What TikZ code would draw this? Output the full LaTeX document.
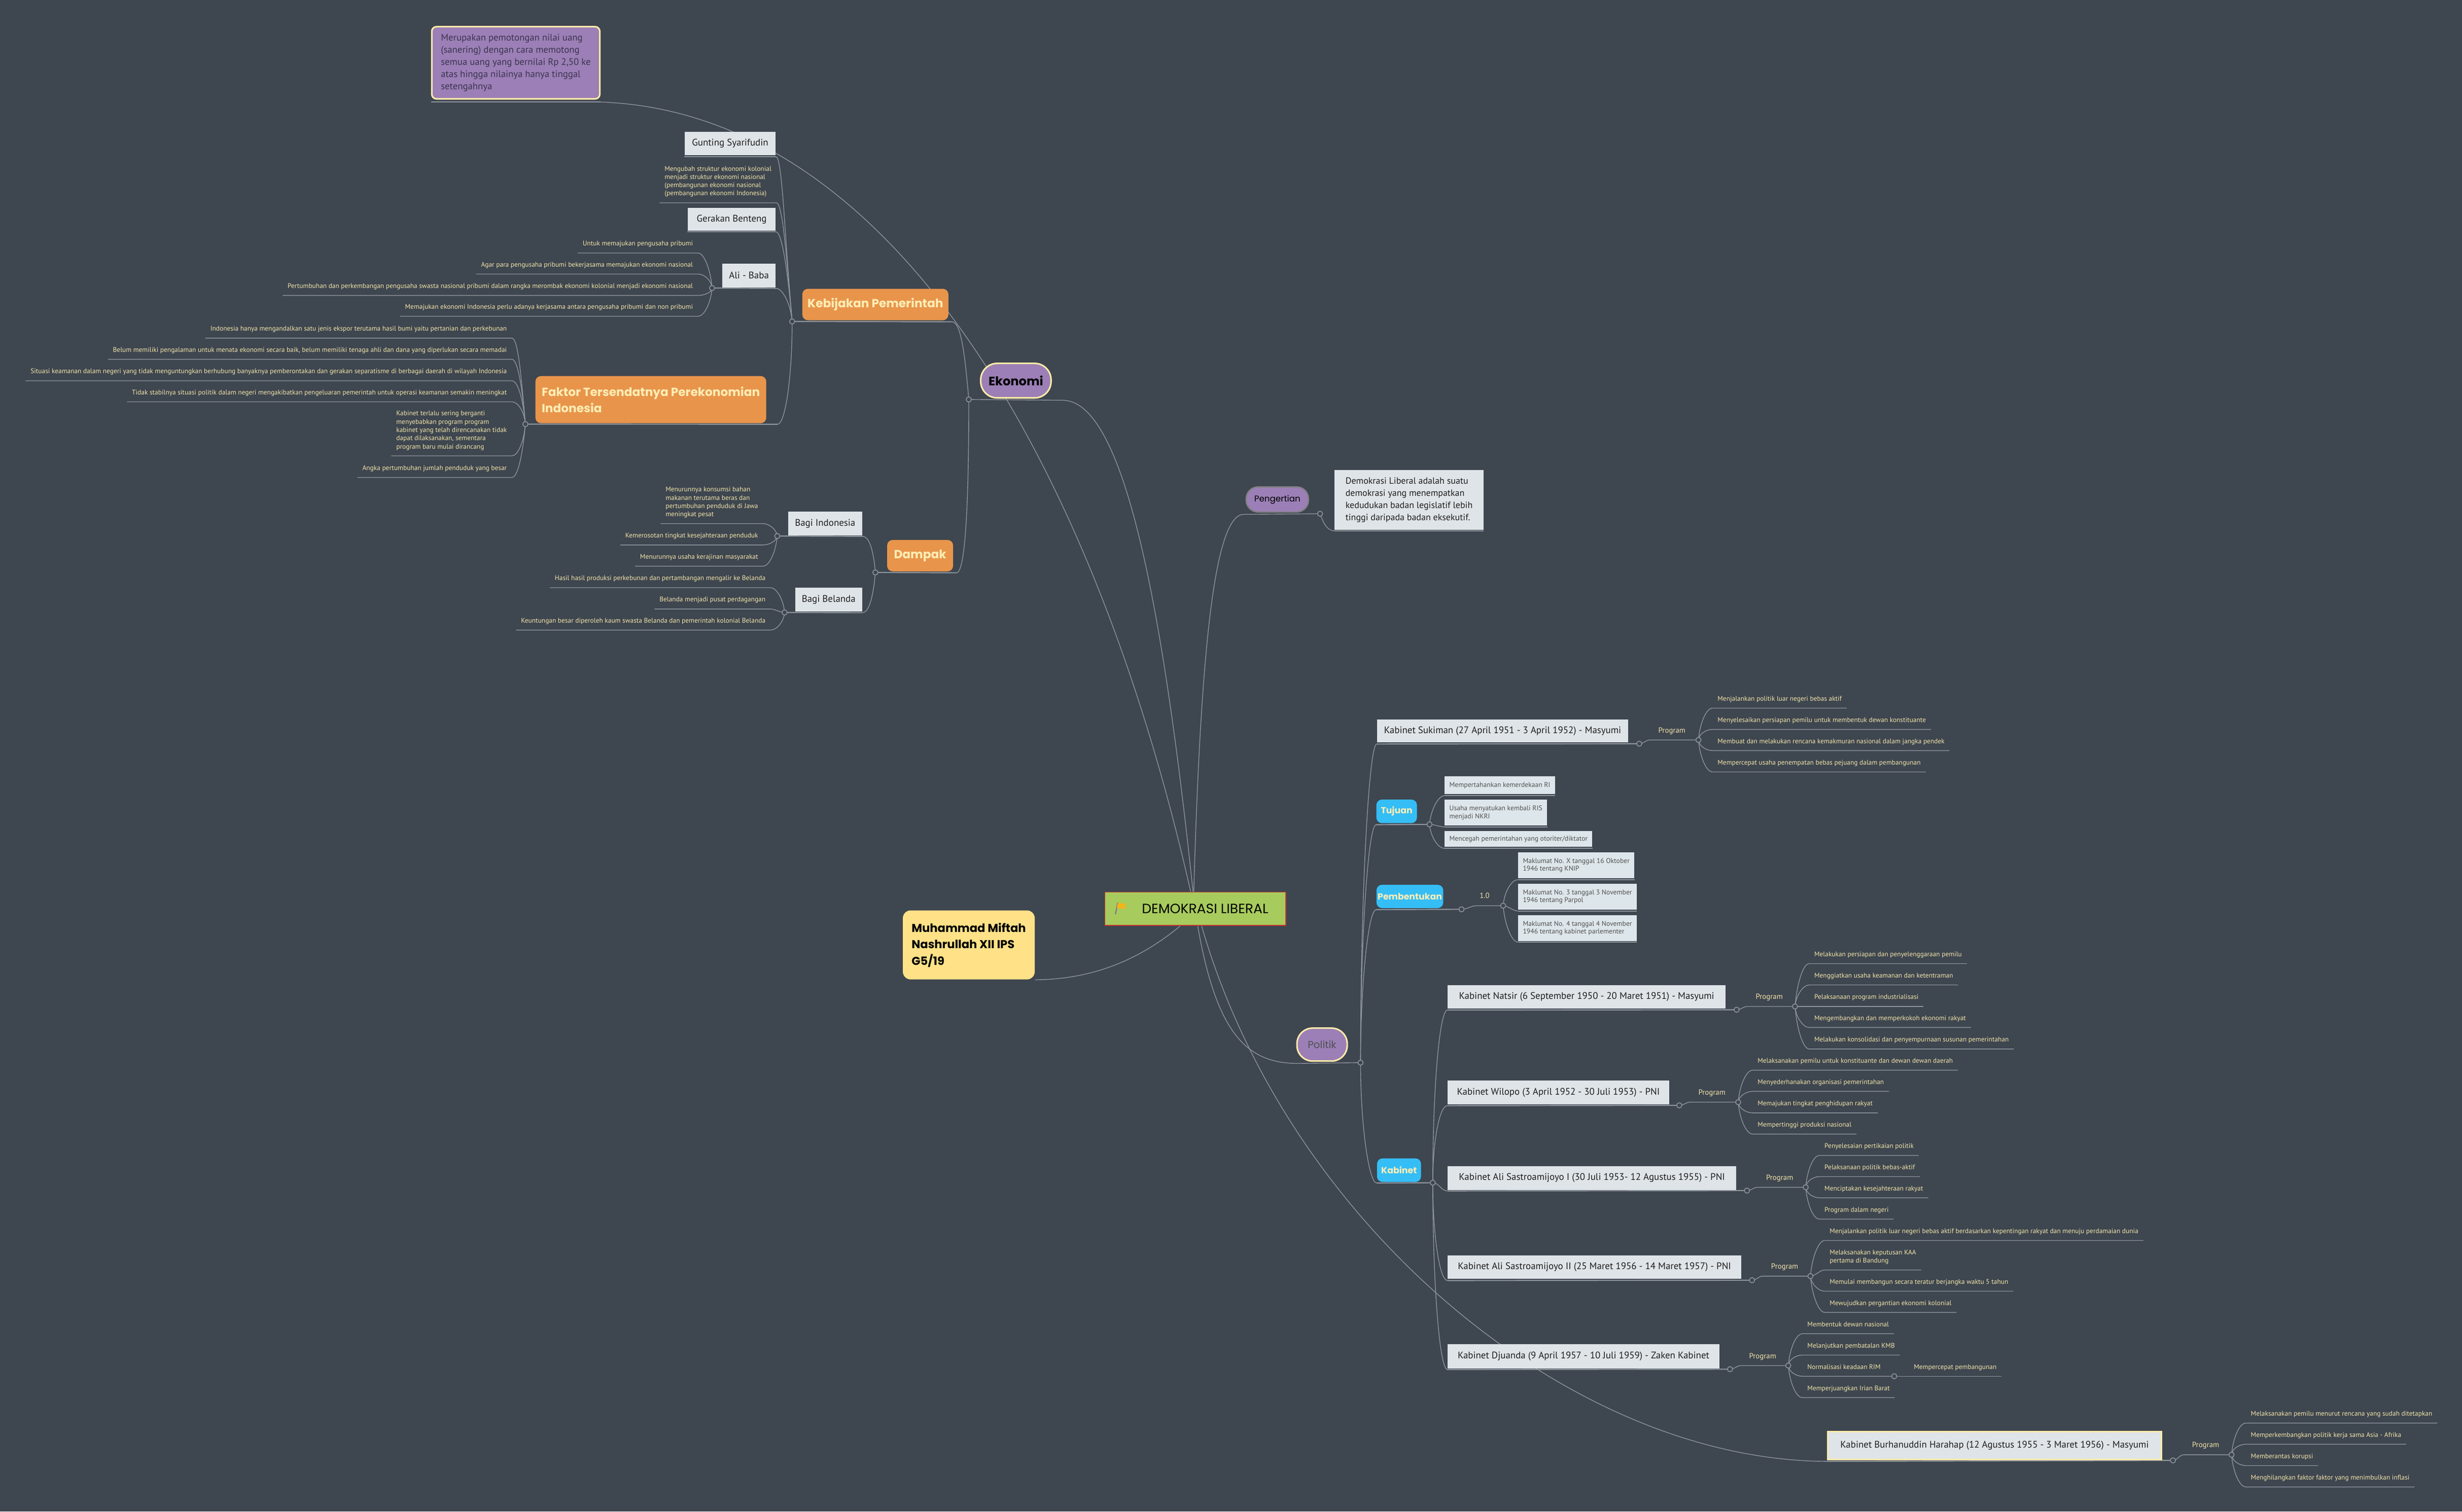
\documentclass[tikz,border=0pt]{standalone}
\usepackage{fontspec}
\setmainfont{PT Sans}
\newfontfamily\popf{Poppins}
\usetikzlibrary{calc}
\pgfdeclarelayer{back}
\pgfdeclarelayer{lines}
\pgfsetlayers{back,lines,main}
\definecolor{bg}{HTML}{3E4650}
\definecolor{lnc}{HTML}{8E959C}
\definecolor{txt}{HTML}{F3E5A9}
\definecolor{lbx}{HTML}{DFE4E8}
\definecolor{tbx}{HTML}{DDE6EA}
\definecolor{org}{HTML}{E8954B}
\definecolor{orgt}{HTML}{FDEDB5}
\definecolor{blu}{HTML}{35BEF6}
\definecolor{pur}{HTML}{9B7FB6}
\definecolor{yel}{HTML}{FDEBA8}
\definecolor{grn}{HTML}{A8CB5E}
\definecolor{redb}{HTML}{CC3A2E}
\definecolor{mmy}{HTML}{FFE287}
\definecolor{dark}{HTML}{1E1E1E}
\definecolor{notet}{HTML}{3C3450}
\definecolor{gtx}{HTML}{505050}
\definecolor{flagc}{HTML}{F4B41A}
\newcommand\mysmall{\fontsize{4.32}{5.25}\selectfont}
\newcommand\mybox{\fontsize{6.1}{7.5}\selectfont}
\newcommand\mytbox{\fontsize{4.4}{5.1}\selectfont}
\newcommand\myorg{\popf\bfseries\fontsize{7.5}{10.5}\selectfont}
\newcommand\myblu{\popf\bfseries\fontsize{5.6}{7}\selectfont}
\newcommand\myprog{\fontsize{4.8}{5.5}\selectfont}
\begin{document}
\begin{tikzpicture}[x=1pt,y=1pt,
 ln/.style={draw=lnc,line width=0.45pt},
 uln/.style={draw=lnc,line width=0.7pt},
 cdot/.style={circle,draw=lnc,fill=bg,line width=0.5pt,inner sep=0pt,minimum size=3.3pt},
 smt/.style={font=\mysmall,text=txt,inner xsep=3pt,inner ysep=3.4pt},
 lfL/.style={smt,text depth=1pt,anchor=south east},
 lfR/.style={smt,text depth=1pt,anchor=south west},
 mlL/.style={smt,align=left,anchor=south east},
 mlR/.style={smt,align=left,anchor=south west},
 lbox/.style={fill=lbx,text=dark,font=\mybox,inner sep=0pt},
 tbox/.style={fill=tbx,text=gtx,font=\mytbox,inner xsep=3pt,inner ysep=0pt,align=left,anchor=west},
 obox/.style={fill=org,text=orgt,rounded corners=3.5pt,inner sep=0pt,font=\myorg},
 bbox/.style={fill=blu,text=orgt,rounded corners=3.5pt,inner sep=0pt,font=\myblu},
 pill/.style={fill=pur,inner sep=0pt},
 prog/.style={font=\myprog,text=txt,inner xsep=5pt,inner ysep=3.4pt,text depth=1pt,anchor=south west},
 toLup/.style={out=0,in=95,out distance=4pt,in distance=#1},
 toLdn/.style={out=0,in=-95,out distance=4pt,in distance=#1},
 toRup/.style={out=180,in=85,out distance=4pt,in distance=#1},
 toRdn/.style={out=180,in=-85,out distance=4pt,in distance=#1},
 toLlv/.style={out=0,in=180,out distance=3pt,in distance=3pt},
 toRlv/.style={out=180,in=0,out distance=3pt,in distance=3pt}
]
\useasboundingbox (0,0) rectangle (1568,-963);
\begin{pgfonlayer}{back}
\fill[bg] (0,0) rectangle (1568,-963);
\end{pgfonlayer}

% ---------- circle coordinates ----------
\coordinate (kC) at (504.5,-204.8);
\coordinate (abC) at (453.5,-183.5);
\coordinate (fC) at (334.6,-270.2);
\coordinate (eC) at (617,-254.5);
\coordinate (dC) at (557.5,-364.7);
\coordinate (biC) at (495,-341.5);
\coordinate (bbC) at (499.7,-390.2);
\coordinate (pC) at (840.7,-327.3);
\coordinate (polC) at (866.5,-677);
\coordinate (tjC) at (910.4,-525.2);
\coordinate (pbC1) at (930.8,-579.3);
\coordinate (pbC2) at (957.3,-577);
\coordinate (kbC) at (912.5,-753.5);
\coordinate (ksC1) at (1044,-473.8);
\coordinate (ksC2) at (1081.7,-471.4);
\coordinate (natC1) at (1106,-643.3);
\coordinate (natC2) at (1143.2,-641.2);
\coordinate (wilC1) at (1069.5,-704.2);
\coordinate (wilC2) at (1107,-702.2);
\coordinate (aiC1) at (1112.6,-758.5);
\coordinate (aiC2) at (1150,-756.4);
\coordinate (ajC1) at (1115.8,-815.6);
\coordinate (ajC2) at (1153,-813);
\coordinate (djC1) at (1101.8,-872.3);
\coordinate (djC2) at (1138.9,-870);
\coordinate (djx) at (1206.4,-876.8);
\coordinate (bhC1) at (1383.9,-930.4);
\coordinate (bhC2) at (1421.2,-926.8);

% ---------- nodes: left (Ekonomi) ----------
\node[fill=pur,draw=yel,line width=1pt,rounded corners=3pt,minimum width=107pt,minimum height=46pt,inner sep=0pt,align=left,text=notet,font=\fontsize{6.05}{7.75}\selectfont] (pn) at (328.5,-40) {Merupakan pemotongan nilai uang\\(sanering) dengan cara memotong\\semua uang yang bernilai Rp 2,50 ke\\atas hingga nilainya hanya tinggal\\setengahnya};
\node[lbox,minimum width=58pt,minimum height=15pt] (gs) at (465,-91.5) {Gunting Syarifudin};
\node[mlL] (mg) at (494.5,-129.2) {Mengubah struktur ekonomi kolonial\\menjadi struktur ekonomi nasional\\(pembangunan ekonomi nasional\\(pembangunan ekonomi Indonesia)};
\node[lbox,minimum width=56pt,minimum height=14.5pt] (gb) at (466,-139.75) {Gerakan Benteng};
\node[lbox,minimum width=34pt,minimum height=15pt] (ab) at (477,-175.5) {Ali - Baba};
\node[lfL] (a1) at (444.5,-161.2) {Untuk memajukan pengusaha pribumi};
\node[lfL] (a2) at (444.5,-174.6) {Agar para pengusaha pribumi bekerjasama memajukan ekonomi nasional};
\node[lfL] (a3) at (444.5,-188.2) {Pertumbuhan dan perkembangan pengusaha swasta nasional pribumi dalam rangka merombak ekonomi kolonial menjadi ekonomi nasional};
\node[lfL] (a4) at (444.5,-201.5) {Memajukan ekonomi Indonesia perlu adanya kerjasama antara pengusaha pribumi dan non pribumi};
\node[obox,minimum width=93pt,minimum height=20pt] (kp) at (557.5,-194) {Kebijakan Pemerintah};
\node[obox,minimum width=147pt,minimum height=30pt,align=left] (fk) at (414.5,-254.6) {Faktor Tersendatnya Perekonomian\\Indonesia};
\node[lfL] (f1) at (326,-215.4) {Indonesia hanya mengandalkan satu jenis ekspor terutama hasil bumi yaitu pertanian dan perkebunan};
\node[lfL] (f2) at (326,-228.9) {Belum memiliki pengalaman untuk menata ekonomi secara baik, belum memiliki tenaga ahli dan dana yang diperlukan secara memadai};
\node[lfL] (f3) at (326,-242.6) {Situasi keamanan dalam negeri yang tidak menguntungkan berhubung banyaknya pemberontakan dan gerakan separatisme di berbagai daerah di wilayah Indonesia};
\node[lfL] (f4) at (326,-256) {Tidak stabilnya situasi politik dalam negeri mengakibatkan pengeluaran pemerintah untuk operasi keamanan semakin meningkat};
\node[mlL] (f5) at (326,-290.4) {Kabinet terlalu sering berganti\\menyebabkan program program\\kabinet yang telah direncanakan tidak\\dapat dilaksanakan, sementara\\program baru mulai dirancang};
\node[lfL] (f6) at (326,-304.2) {Angka pertumbuhan jumlah penduduk yang besar};
\node[pill,draw=yel,line width=1pt,rounded corners=10.5pt,minimum width=44.8pt,minimum height=22pt,text=black,font=\popf\bfseries\fontsize{7.8}{9}\selectfont] (ek) at (647,-242.5) {Ekonomi};
\node[obox,minimum width=42pt,minimum height=20pt] (dp) at (586,-354) {Dampak};
\node[lbox,minimum width=47pt,minimum height=15pt] (bi) at (525.5,-333.5) {Bagi Indonesia};
\node[lbox,minimum width=42.5pt,minimum height=15pt] (bb) at (527.75,-381.95) {Bagi Belanda};
\node[mlL] (b1) at (486,-333.6) {Menurunnya konsumsi bahan\\makanan terutama beras dan\\pertumbuhan penduduk di Jawa\\meningkat pesat};
\node[lfL] (b2) at (486,-347.2) {Kemerosotan tingkat kesejahteraan penduduk};
\node[lfL] (b3) at (486,-360.7) {Menurunnya usaha kerajinan masyarakat};
\node[lfL] (e1) at (490.7,-374.4) {Hasil hasil produksi perkebunan dan pertambangan mengalir ke Belanda};
\node[lfL] (e2) at (490.7,-388) {Belanda menjadi pusat perdagangan};
\node[lfL] (e3) at (490.7,-401.4) {Keuntungan besar diperoleh kaum swasta Belanda dan pemerintah kolonial Belanda};
\node[fill=mmy,rounded corners=5pt,minimum width=84pt,minimum height=44pt,inner sep=0pt,align=left,text=black,font=\popf\bfseries\fontsize{7.3}{10.5}\selectfont] (mm) at (617,-602) {Muhammad Miftah\\Nashrullah XII IPS\\G5/19};

% ---------- center ----------
\node[fill=grn,draw=redb,line width=0.6pt,minimum width=115.2pt,minimum height=21.3pt,inner sep=0pt,text=black,font=\popf\fontsize{8.6}{10}\selectfont] (dl) at (761.3,-579) {\hspace*{12.4pt}DEMOKRASI LIBERAL};
\draw[line width=0.8pt,draw=gray] (710.4,-582.5) -- (711.9,-575);
\fill[flagc] (711.9,-575.2) -- (717.6,-575.9) -- (715.9,-577.4) -- (717.8,-579) -- (711.3,-578.6) -- cycle;

% ---------- right ----------
\node[pill,draw=gray,line width=0.8pt,rounded corners=7.5pt,minimum width=39.7pt,minimum height=16pt,text=black,font=\popf\fontsize{5.4}{6}\selectfont] (pg) at (813.5,-318.2) {Pengertian};
\node[lbox,minimum width=94.8pt,minimum height=38pt,align=left,font=\fontsize{5.8}{7.8}\selectfont] (db) at (897.4,-318.5) {Demokrasi Liberal adalah suatu\\demokrasi yang menempatkan\\kedudukan badan legislatif lebih\\tinggi daripada badan eksekutif.};
\node[pill,draw=yel,line width=1pt,rounded corners=10pt,minimum width=32pt,minimum height=21pt,text=gtx,font=\popf\fontsize{6.4}{7}\selectfont] (pol) at (842,-665.5) {Politik};

\node[lbox,minimum width=160pt,minimum height=14.5pt] (ks) at (957,-465.75) {Kabinet Sukiman (27 April 1951 - 3 April 1952) - Masyumi};
\node[prog] (ksP) at (1051,-471.4) {Program};
\node[lfR] (s1) at (1090.7,-451.1) {Menjalankan politik luar negeri bebas aktif};
\node[lfR] (s2) at (1090.7,-464.7) {Menyelesaikan persiapan pemilu untuk membentuk dewan konstituante};
\node[lfR] (s3) at (1090.7,-478.2) {Membuat dan melakukan rencana kemakmuran nasional dalam jangka pendek};
\node[lfR] (s4) at (1090.7,-491.8) {Mempercepat usaha penempatan bebas pejuang dalam pembangunan};

\node[bbox,minimum width=25.8pt,minimum height=15pt] (tj) at (889.5,-516.9) {Tujuan};
\node[tbox,minimum height=11.5pt] (t1) at (919.9,-500.25) {Mempertahankan kemerdekaan RI};
\node[tbox,minimum height=16.5pt] (t2) at (919.9,-517.75) {Usaha menyatukan kembali RIS\\menjadi NKRI};
\node[tbox,minimum height=10.2pt] (t3) at (919.9,-534.5) {Mencegah pemerintahan yang otoriter/diktator};

\node[bbox,minimum width=42.5pt,minimum height=14.8pt] (pb) at (897.9,-571.1) {Pembentukan};
\node[prog,inner xsep=1.7pt] (one) at (940.5,-577) {1.0};
\node[tbox,minimum height=16.5pt] (m1) at (966.7,-551.25) {Maklumat No. X tanggal 16 Oktober\\1946 tentang KNIP};
\node[tbox,minimum height=16.6pt] (m2) at (966.7,-571.3) {Maklumat No. 3 tanggal 3 November\\1946 tentang Parpol};
\node[tbox,minimum height=16.3pt] (m3) at (966.7,-591.35) {Maklumat No. 4 tanggal 4 November\\1946 tentang kabinet parlementer};

\node[bbox,minimum width=28pt,minimum height=15pt] (kb) at (891,-745.5) {Kabinet};

\node[lbox,minimum width=177pt,minimum height=15pt] (nat) at (1010.5,-635) {Kabinet Natsir (6 September 1950 - 20 Maret 1951) - Masyumi};
\node[prog] (natP) at (1113,-641.2) {Program};
\node[lfR] (n1) at (1152.3,-613.9) {Melakukan persiapan dan penyelenggaraan pemilu};
\node[lfR] (n2) at (1152.3,-627.5) {Menggiatkan usaha keamanan dan ketentraman};
\node[lfR] (n3) at (1152.3,-641.2) {Pelaksanaan program industrialisasi};
\node[lfR] (n4) at (1152.3,-654.6) {Mengembangkan dan memperkokoh ekonomi rakyat};
\node[lfR] (n5) at (1152.3,-668.3) {Melakukan konsolidasi dan penyempurnaan susunan pemerintahan};

\node[lbox,minimum width=141pt,minimum height=15pt] (wil) at (992.5,-696) {Kabinet Wilopo (3 April 1952 - 30 Juli 1953) - PNI};
\node[prog] (wilP) at (1076.5,-702.2) {Program};
\node[lfR] (w1) at (1116.2,-681.8) {Melaksanakan pemilu untuk konstituante dan dewan dewan daerah};
\node[lfR] (w2) at (1116.2,-695.3) {Menyederhanakan organisasi pemerintahan};
\node[lfR] (w3) at (1116.2,-709) {Memajukan tingkat penghidupan rakyat};
\node[lfR] (w4) at (1116.2,-722.5) {Mempertinggi produksi nasional};

\node[lbox,minimum width=183.8pt,minimum height=15.1pt] (ali1) at (1013.9,-750.45) {Kabinet Ali Sastroamijoyo I (30 Juli 1953- 12 Agustus 1955) - PNI};
\node[prog] (aiP) at (1119.6,-756.4) {Program};
\node[lfR] (i1) at (1158.8,-736.1) {Penyelesaian pertikaian politik};
\node[lfR] (i2) at (1158.8,-749.6) {Pelaksanaan politik bebas-aktif};
\node[lfR] (i3) at (1158.8,-763.1) {Menciptakan kesejahteraan rakyat};
\node[lfR] (i4) at (1158.8,-776.7) {Program dalam negeri};

\node[lbox,minimum width=187pt,minimum height=15.1pt] (ali2) at (1015.5,-807.25) {Kabinet Ali Sastroamijoyo II (25 Maret 1956 - 14 Maret 1957) - PNI};
\node[prog] (ajP) at (1122.8,-813) {Program};
\node[lfR] (j1) at (1162.1,-790.3) {Menjalankan politik luar negeri bebas aktif berdasarkan kepentingan rakyat dan menuju perdamaian dunia};
\node[mlR] (j2) at (1162.1,-809.1) {Melaksanakan keputusan KAA\\pertama di Bandung};
\node[lfR] (j3) at (1162.1,-822.6) {Memulai membangun secara teratur berjangka waktu 5 tahun};
\node[lfR] (j4) at (1162.1,-836.1) {Mewujudkan pergantian ekonomi kolonial};

\node[lbox,minimum width=173pt,minimum height=15.3pt] (dju) at (1008.5,-864.15) {Kabinet Djuanda (9 April 1957 - 10 Juli 1959) - Zaken Kabinet};
\node[prog] (djP) at (1108.8,-870) {Program};
\node[lfR] (d1) at (1147.9,-849.7) {Membentuk dewan nasional};
\node[lfR] (d2) at (1147.9,-863.3) {Melanjutkan pembatalan KMB};
\node[lfR] (d3) at (1147.9,-876.8) {Normalisasi keadaan RIM};
\node[lfR] (d5) at (1215.7,-876.8) {Mempercepat pembangunan};
\node[lfR] (d4) at (1147.9,-890.4) {Memperjuangkan Irian Barat};

\node[lbox,draw=yel,line width=1.2pt,minimum width=212.6pt,minimum height=17.7pt] (bh) at (1270.3,-920.95) {Kabinet Burhanuddin Harahap (12 Agustus 1955 - 3 Maret 1956) - Masyumi};
\node[prog] (bhP) at (1390.9,-926.8) {Program};
\node[lfR] (h1) at (1430.3,-906.6) {Melaksanakan pemilu menurut rencana yang sudah ditetapkan};
\node[lfR] (h2) at (1430.3,-920.1) {Memperkembangkan politik kerja sama Asia - Afrika};
\node[lfR] (h3) at (1430.3,-933.7) {Memberantas korupsi};
\node[lfR] (h4) at (1430.3,-947.3) {Menghilangkan faktor faktor yang menimbulkan inflasi};

% ---------- connectors ----------
\begin{pgfonlayer}{lines}
% main branches from the centre
\draw[ln] ([xshift=-3pt]dl.north) .. controls (700,-310) and (575,-72) .. ([yshift=-1.5pt]pn.south east);
\draw[uln] ([yshift=-1.5pt]pn.south east) -- ([yshift=-1.5pt]pn.south west);
\draw[ln] ([xshift=-1.5pt]dl.north) .. controls (740,-380) and (715,-254.5) .. ([xshift=6.6pt,yshift=-1pt]ek.south east) -- (eC);
\draw[ln] ([xshift=-1pt]dl.north) .. controls (765,-400) and (775,-327.3) .. ([xshift=-1pt,yshift=-1.1pt]pg.south west) -- (pC);
\draw[ln] ([xshift=-9.7pt]dl.south) .. controls (725,-612) and (695,-624) .. (mm.south east);
\draw[ln] ([xshift=1.5pt]dl.south) .. controls (775,-660) and (795,-677) .. ([yshift=-1pt]pol.south west) -- (polC);
\draw[ln] ([xshift=4pt]dl.south) .. controls (820,-780) and (1000,-930.4) .. ([yshift=-0.6pt]bh.south west);
\draw[uln] ([yshift=-0.6pt]bh.south west) -- (bhC1);

% Ekonomi
\draw[ln] (eC) to[out=95,in=0,out distance=28pt,in distance=6pt] ([xshift=2pt,yshift=-0.8pt]kp.south east);
\draw[uln] ([xshift=2pt,yshift=-0.8pt]kp.south east) -- (kC);
\draw[ln] (eC) to[out=-90,in=0,out distance=60pt,in distance=6pt] ([xshift=2pt,yshift=-0.7pt]dp.south east);
\draw[uln] ([xshift=2pt,yshift=-0.7pt]dp.south east) -- (dC);
\draw[ln] (kC) to[out=-90,in=0,out distance=35pt,in distance=5pt] ([xshift=7pt,yshift=-0.5pt]fk.south east);
\draw[uln] ([xshift=7pt,yshift=-0.5pt]fk.south east) -- (fC);

% Kebijakan Pemerintah
\draw[uln] ([yshift=-0.7pt]gs.south west) -- ([yshift=-0.7pt]gs.south east);
\draw[ln] ([yshift=-0.7pt]gs.south east) to[toLup=55pt] (kC);
\draw[ln] (mg.south west) -- (mg.south east) to[toLup=40pt] (kC);
\draw[uln] ([yshift=-0.5pt]gb.south west) -- ([yshift=-0.5pt]gb.south east);
\draw[ln] ([yshift=-0.5pt]gb.south east) to[toLup=30pt] (kC);
\draw[uln] (abC) -- ([yshift=-0.5pt]ab.south east);
\draw[ln] ([yshift=-0.5pt]ab.south east) to[toLup=12pt] (kC);
\draw[ln] (a1.south west) -- (a1.south east) to[toLup=12pt] (abC);
\draw[ln] (a2.south west) -- (a2.south east) to[toLup=5pt] (abC);
\draw[ln] (a3.south west) -- (a3.south east) to[toLdn=3pt] (abC);
\draw[ln] (a4.south west) -- (a4.south east) to[toLdn=10pt] (abC);

% Faktor
\draw[ln] (f1.south west) -- (f1.south east) to[toLup=30pt] (fC);
\draw[ln] (f2.south west) -- (f2.south east) to[toLup=22pt] (fC);
\draw[ln] (f3.south west) -- (f3.south east) to[toLup=15pt] (fC);
\draw[ln] (f4.south west) -- (f4.south east) to[toLup=8pt] (fC);
\draw[ln] (f5.south west) -- (f5.south east) to[toLdn=11pt] (fC);
\draw[ln] (f6.south west) -- (f6.south east) to[toLdn=18pt] (fC);

% Dampak
\draw[uln] ([yshift=-0.5pt]bi.south east) -- (biC);
\draw[ln] (dC) to[out=95,in=0,out distance=12pt,in distance=5pt] ([yshift=-0.5pt]bi.south east);
\draw[uln] ([yshift=-0.7pt]bb.south east) -- (bbC);
\draw[ln] (dC) to[out=-95,in=0,out distance=12pt,in distance=5pt] ([yshift=-0.7pt]bb.south east);
\draw[ln] (b1.south west) -- (b1.south east) to[toLup=4pt] (biC);
\draw[ln] (b2.south west) -- (b2.south east) to[toLdn=3pt] (biC);
\draw[ln] (b3.south west) -- (b3.south east) to[toLdn=10pt] (biC);
\draw[ln] (e1.south west) -- (e1.south east) to[toLup=8pt] (bbC);
\draw[ln] (e2.south west) -- (e2.south east) to[toLlv] (bbC);
\draw[ln] (e3.south west) -- (e3.south east) to[toLdn=6pt] (bbC);

% Pengertian
\draw[ln] (pC) to[out=-70,in=180,out distance=5pt,in distance=5pt] ([yshift=-0.5pt]db.south west);
\draw[uln] ([yshift=-0.5pt]db.south west) -- ([yshift=-0.5pt]db.south east);

% Politik
\draw[ln] (polC) to[out=90,in=180,out distance=105pt,in distance=5pt] ([yshift=-0.8pt]ks.south west);
\draw[uln] ([yshift=-0.8pt]ks.south west) -- (ksC1);
\draw[ln] (polC) to[out=90,in=180,out distance=80pt,in distance=5pt] ([yshift=-0.8pt]tj.south west);
\draw[uln] ([yshift=-0.8pt]tj.south west) -- (tjC);
\draw[ln] (polC) to[out=90,in=180,out distance=50pt,in distance=5pt] ([yshift=-0.8pt]pb.south west);
\draw[uln] ([yshift=-0.8pt]pb.south west) -- (pbC1);
\draw[ln] (polC) to[out=-90,in=180,out distance=40pt,in distance=5pt] ([yshift=-0.5pt]kb.south west);
\draw[uln] ([yshift=-0.5pt]kb.south west) -- (kbC);

% Sukiman
\draw[ln] (ksC1) to[out=0,in=180,out distance=3pt,in distance=3pt] (ksP.south west) -- (ksC2);
\draw[ln] (s1.south east) -- (s1.south west) to[toRup=11pt] (ksC2);
\draw[ln] (s2.south east) -- (s2.south west) to[toRup=4pt] (ksC2);
\draw[ln] (s3.south east) -- (s3.south west) to[toRdn=4pt] (ksC2);
\draw[ln] (s4.south east) -- (s4.south west) to[toRdn=11pt] (ksC2);

% Tujuan
\draw[ln] (tjC) to[out=85,in=180,out distance=9pt,in distance=4pt] ([yshift=-0.7pt]t1.south west);
\draw[uln] ([yshift=-0.7pt]t1.south west) -- ([yshift=-0.7pt]t1.south east);
\draw[ln] (tjC) to[out=0,in=180,out distance=3pt,in distance=3pt] ([yshift=-0.6pt]t2.south west);
\draw[uln] ([yshift=-0.6pt]t2.south west) -- ([yshift=-0.6pt]t2.south east);
\draw[ln] (tjC) to[out=-85,in=180,out distance=8pt,in distance=4pt] ([yshift=-0.7pt]t3.south west);
\draw[uln] ([yshift=-0.7pt]t3.south west) -- ([yshift=-0.7pt]t3.south east);

% Pembentukan
\draw[ln] (pbC1) to[out=0,in=180,out distance=4pt,in distance=4pt] (one.south west) -- (pbC2);
\draw[ln] (pbC2) to[out=85,in=180,out distance=9pt,in distance=4pt] ([yshift=-0.7pt]m1.south west);
\draw[uln] ([yshift=-0.7pt]m1.south west) -- ([yshift=-0.7pt]m1.south east);
\draw[ln] (pbC2) to[out=0,in=180,out distance=3pt,in distance=3pt] ([yshift=-0.6pt]m2.south west);
\draw[uln] ([yshift=-0.6pt]m2.south west) -- ([yshift=-0.6pt]m2.south east);
\draw[ln] (pbC2) to[out=-85,in=180,out distance=12pt,in distance=4pt] ([yshift=-0.5pt]m3.south west);
\draw[uln] ([yshift=-0.5pt]m3.south west) -- ([yshift=-0.5pt]m3.south east);

% Kabinet
\draw[ln] (kbC) to[out=90,in=180,out distance=60pt,in distance=5pt] ([yshift=-0.8pt]nat.south west);
\draw[uln] ([yshift=-0.8pt]nat.south west) -- (natC1);
\draw[ln] (kbC) to[out=90,in=180,out distance=27pt,in distance=5pt] ([yshift=-0.7pt]wil.south west);
\draw[uln] ([yshift=-0.7pt]wil.south west) -- (wilC1);
\draw[ln] (kbC) to[out=0,in=180,out distance=4pt,in distance=4pt] ([yshift=-0.5pt]ali1.south west);
\draw[uln] ([yshift=-0.5pt]ali1.south west) -- (aiC1);
\draw[ln] (kbC) to[out=-90,in=180,out distance=33pt,in distance=5pt] ([yshift=-0.8pt]ali2.south west);
\draw[uln] ([yshift=-0.8pt]ali2.south west) -- (ajC1);
\draw[ln] (kbC) to[out=-90,in=180,out distance=64pt,in distance=5pt] ([yshift=-0.5pt]dju.south west);
\draw[uln] ([yshift=-0.5pt]dju.south west) -- (djC1);

% Natsir
\draw[ln] (natC1) to[out=0,in=180,out distance=3pt,in distance=3pt] (natP.south west) -- (natC2);
\draw[ln] (n1.south east) -- (n1.south west) to[toRup=15pt] (natC2);
\draw[ln] (n2.south east) -- (n2.south west) to[toRup=7pt] (natC2);
\draw[ln] (n3.south east) -- (n3.south west) to[toRlv] (natC2);
\draw[ln] (n4.south east) -- (n4.south west) to[toRdn=7pt] (natC2);
\draw[ln] (n5.south east) -- (n5.south west) to[toRdn=15pt] (natC2);
% Wilopo
\draw[ln] (wilC1) to[out=0,in=180,out distance=3pt,in distance=3pt] (wilP.south west) -- (wilC2);
\draw[ln] (w1.south east) -- (w1.south west) to[toRup=11pt] (wilC2);
\draw[ln] (w2.south east) -- (w2.south west) to[toRup=4pt] (wilC2);
\draw[ln] (w3.south east) -- (w3.south west) to[toRdn=4pt] (wilC2);
\draw[ln] (w4.south east) -- (w4.south west) to[toRdn=11pt] (wilC2);
% Ali I
\draw[ln] (aiC1) to[out=0,in=180,out distance=3pt,in distance=3pt] (aiP.south west) -- (aiC2);
\draw[ln] (i1.south east) -- (i1.south west) to[toRup=11pt] (aiC2);
\draw[ln] (i2.south east) -- (i2.south west) to[toRup=4pt] (aiC2);
\draw[ln] (i3.south east) -- (i3.south west) to[toRdn=4pt] (aiC2);
\draw[ln] (i4.south east) -- (i4.south west) to[toRdn=11pt] (aiC2);
% Ali II
\draw[ln] (ajC1) to[out=0,in=180,out distance=3pt,in distance=3pt] (ajP.south west) -- (ajC2);
\draw[ln] (j1.south east) -- (j1.south west) to[toRup=12pt] (ajC2);
\draw[ln] (j2.south east) -- (j2.south west) to[toRlv] (ajC2);
\draw[ln] (j3.south east) -- (j3.south west) to[toRdn=5pt] (ajC2);
\draw[ln] (j4.south east) -- (j4.south west) to[toRdn=12pt] (ajC2);
% Djuanda
\draw[ln] (djC1) to[out=0,in=180,out distance=3pt,in distance=3pt] (djP.south west) -- (djC2);
\draw[ln] (d1.south east) -- (d1.south west) to[toRup=11pt] (djC2);
\draw[ln] (d2.south east) -- (d2.south west) to[toRup=4pt] (djC2);
\draw[ln] (djx) -- (d3.south west) to[toRdn=4pt] (djC2);
\draw[ln] (djx) -- (d5.south east);
\draw[ln] (d4.south east) -- (d4.south west) to[toRdn=11pt] (djC2);
% Burhanuddin
\draw[ln] (bhC1) to[out=0,in=180,out distance=3pt,in distance=3pt] (bhP.south west) -- (bhC2);
\draw[ln] (h1.south east) -- (h1.south west) to[toRup=11pt] (bhC2);
\draw[ln] (h2.south east) -- (h2.south west) to[toRup=4pt] (bhC2);
\draw[ln] (h3.south east) -- (h3.south west) to[toRdn=4pt] (bhC2);
\draw[ln] (h4.south east) -- (h4.south west) to[toRdn=11pt] (bhC2);
\end{pgfonlayer}

% ---------- branch circles ----------
\foreach \c in {kC,abC,fC,eC,dC,biC,bbC,pC,polC,tjC,pbC1,pbC2,kbC,ksC1,ksC2,natC1,natC2,wilC1,wilC2,aiC1,aiC2,ajC1,ajC2,djC1,djC2,djx,bhC1,bhC2}
  \node[cdot] at (\c) {};
\end{tikzpicture}
\end{document}
